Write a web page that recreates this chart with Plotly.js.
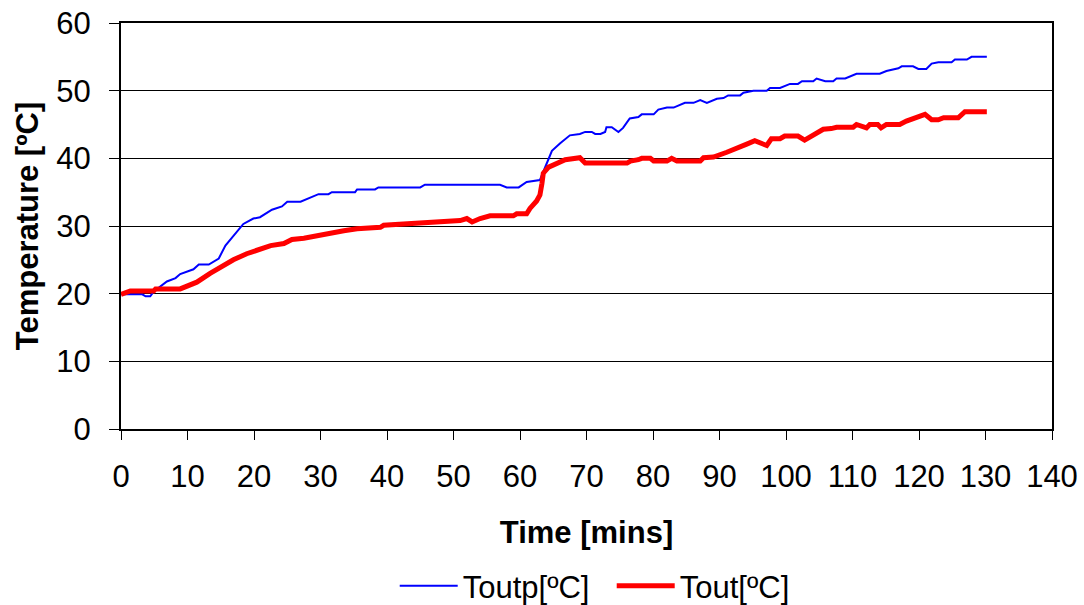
<!DOCTYPE html>
<html>
<head>
<meta charset="utf-8">
<script src="https://cdn.plot.ly/plotly-3.0.1.min.js"></script>
<style>html,body{margin:0;padding:0;background:#fff;}#chart{width:1084px;height:605px;}</style>
</head>
<body>
<div id="chart"></div>
<script>
// Toutp [ºC] series
const toutpTime = [0, 3.2, 3.7, 4.4, 4.9, 6.9, 8.2, 8.9, 10.9, 11.7, 13.2, 14.7, 15.7, 16.9, 18.4, 19.9, 20.9, 22.7, 24.2, 25.0,
  27.0, 29.7, 31.2, 31.7, 35.2, 35.5, 38.2, 38.7, 45.0, 45.7, 57.0, 58.0, 59.8, 61.0, 62.5, 63.0, 64.0, 64.8, 66.0, 67.5,
  69.0, 69.8, 70.8, 71.3, 72.1, 72.8, 73.0, 73.8, 74.8, 75.5, 76.5, 77.8, 78.3, 80.1, 80.8, 82.1, 83.1, 84.8, 86.1, 87.1,
  88.1, 89.6, 90.6, 91.3, 93.1, 93.6, 95.1, 97.1, 97.6, 99.1, 100.6, 101.8, 102.4, 104.1, 104.6, 105.9, 107.1, 107.6, 108.9, 110.6,
  114.1, 115.1, 116.9, 117.4, 119.1, 119.9, 121.1, 121.9, 122.9, 124.9, 125.4, 127.2, 127.9, 130.2];
const toutpTemp = [19.9, 19.9, 19.6, 19.6, 20.3, 21.8, 22.3, 22.9, 23.6, 24.3, 24.3, 25.2, 27.1, 28.6, 30.3, 31.1, 31.3, 32.4, 32.9, 33.6,
  33.6, 34.7, 34.7, 35.0, 35.0, 35.4, 35.4, 35.7, 35.7, 36.1, 36.1, 35.7, 35.7, 36.5, 36.8, 36.8, 39.2, 41.1, 42.2, 43.4,
  43.6, 43.9, 43.9, 43.6, 43.6, 43.9, 44.6, 44.6, 43.9, 44.5, 45.9, 46.1, 46.5, 46.5, 47.2, 47.5, 47.5, 48.2, 48.2, 48.6,
  48.2, 48.8, 48.9, 49.3, 49.3, 49.7, 50.0, 50.0, 50.4, 50.4, 51.0, 51.0, 51.4, 51.4, 51.8, 51.4, 51.4, 51.8, 51.8, 52.5,
  52.5, 52.9, 53.3, 53.6, 53.6, 53.2, 53.2, 54.0, 54.2, 54.2, 54.6, 54.6, 55.0, 55.0];

// Tout [ºC] series
const toutTime = [0, 1.4, 4.9, 5.2, 8.9, 11.4, 13.4, 15.4, 16.9, 18.9, 22.5, 24.5, 25.7, 27.5, 29.5, 31.5, 33.5, 35.5, 39.0, 39.5,
  42.5, 46.5, 47.0, 51.0, 52.0, 52.8, 54.0, 55.5, 59.0, 59.5, 61.0, 61.5, 62.5, 63.0, 63.3, 63.5, 64.3, 65.5, 66.8, 69.0,
  69.8, 76.1, 76.6, 77.8, 78.3, 79.6, 80.1, 82.1, 82.8, 83.6, 87.1, 87.6, 89.1, 91.1, 93.1, 94.1, 95.3, 97.1, 97.8, 99.1,
  99.8, 101.8, 102.8, 103.8, 104.6, 105.6, 106.8, 107.6, 110.1, 110.6, 112.1, 112.6, 113.8, 114.3, 115.1, 117.1, 118.1, 119.6, 120.9, 121.9,
  122.9, 123.7, 125.9, 126.9, 130.2];
const toutTemp = [19.9, 20.4, 20.4, 20.7, 20.7, 21.7, 23.0, 24.2, 25.0, 25.9, 27.1, 27.4, 28.0, 28.2, 28.6, 29.0, 29.3, 29.6, 29.8, 30.1,
  30.3, 30.5, 30.6, 30.8, 31.1, 30.6, 31.1, 31.5, 31.5, 31.8, 31.8, 32.6, 33.7, 34.6, 36.3, 37.8, 38.7, 39.2, 39.8, 40.1,
  39.3, 39.3, 39.6, 39.8, 40.0, 40.0, 39.6, 39.6, 40.0, 39.6, 39.6, 40.1, 40.2, 40.9, 41.6, 42.1, 42.6, 41.9, 42.9, 42.9,
  43.3, 43.3, 42.7, 43.3, 43.7, 44.3, 44.4, 44.6, 44.6, 45.0, 44.5, 45.0, 45.0, 44.5, 45.0, 45.0, 45.5, 46.0, 46.5, 45.7,
  45.7, 46.0, 46.0, 46.9, 46.9];

const seriesNames = ['Toutp[ºC]', 'Tout[ºC]'];
const xTitle = 'Time [mins]';
const yTitle = 'Temperature [ºC]';

const FONT = 'Liberation Sans, Arial, sans-serif';
const FS = 31;

const traces = [
  {x: toutpTime, y: toutpTemp, name: seriesNames[0], type: 'scatter', mode: 'lines',
   line: {color: '#0000FF', width: 2}},
  {x: toutTime, y: toutTemp, name: seriesNames[1], type: 'scatter', mode: 'lines',
   line: {color: '#FF0000', width: 5}}
];

const layout = {
  width: 1084, height: 605,
  margin: {l: 121, r: 32, t: 23, b: 176, autoexpand: false},
  paper_bgcolor: '#fff', plot_bgcolor: '#fff',
  font: {family: FONT, size: FS, color: '#000'},
  showlegend: true,
  legend: {orientation: 'h', x: 0.294, xanchor: 'left', y: -0.387, yanchor: 'middle',
           itemwidth: 58, entrywidth: 144, entrywidthmode: 'pixels',
           font: {family: FONT, size: FS, color: '#000'}, tracegroupgap: 0},
  xaxis: {
    range: [0, 140], dtick: 10, tick0: 0, autorange: false,
    ticks: 'outside', ticklen: 9, tickwidth: 1, tickcolor: '#000', ticklabelstandoff: 10,
    showline: true, linecolor: '#000', linewidth: 2, mirror: true,
    showgrid: false, zeroline: false,
    tickfont: {family: FONT, size: FS, color: '#000'},
    title: {text: xTitle, font: {family: FONT, size: FS, color: '#000', weight: 'bold'}, standoff: 28},
    automargin: false
  },
  yaxis: {
    range: [0, 60], dtick: 10, tick0: 0, autorange: false,
    ticks: 'outside', ticklen: 10, tickwidth: 1, tickcolor: '#000', ticklabelstandoff: 12,
    showline: true, linecolor: '#000', linewidth: 2, mirror: true,
    showgrid: true, gridcolor: '#000', gridwidth: 1, zeroline: false,
    tickfont: {family: FONT, size: FS, color: '#000'},
    title: {text: yTitle, font: {family: FONT, size: FS, color: '#000', weight: 'bold'}, standoff: 8},
    automargin: false
  }
};

Plotly.newPlot('chart', traces, layout, {displayModeBar: false, staticPlot: true});
</script>
</body>
</html>
